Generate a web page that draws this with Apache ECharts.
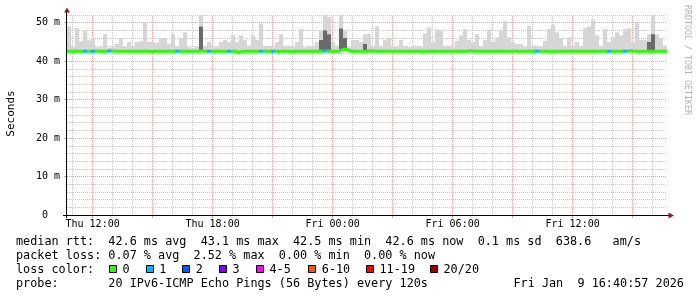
<!DOCTYPE html>
<html><head><meta charset="utf-8">
<script src="https://cdn.jsdelivr.net/npm/echarts@6/dist/echarts.min.js"></script>
<style>html,body{margin:0;padding:0;background:#fff}#c{width:697px;height:297px}</style>
</head><body><div id="c"></div>
<script>
// ---- time axis (hours since Thu 00:00) ----
const startHour = 10.72;
const endHour = 40.72;
const binHours = 0.2;
const tickHours = [12, 18, 24, 30, 36];
const tickLabels = ['Thu 12:00', 'Thu 18:00', 'Fri 00:00', 'Fri 06:00', 'Fri 12:00'];
const yTickValues = [0, 10, 20, 30, 40, 50];
const yTickLabels = ['0  ', '10 m', '20 m', '30 m', '40 m', '50 m'];

// ---- series values (ms), one per 12-minute bin ----
const median = [
42.6,42.6,42.6,42.6,42.6,42.6,42.6,42.6,42.6,42.6,
42.7,42.6,42.6,42.6,42.6,42.6,42.6,42.6,42.6,42.6,
42.5,42.6,42.6,42.6,42.6,42.6,42.6,42.6,42.6,42.6,
42.6,42.6,42.6,42.7,42.6,42.6,42.6,42.6,42.6,42.6,
42.6,42.6,42.3,42.6,42.6,42.6,42.6,42.6,42.6,42.6,
42.6,42.6,42.6,42.6,42.6,42.5,42.6,42.6,42.6,42.6,
42.6,42.6,42.6,42.6,42.7,42.6,42.6,42.6,43.0,43.1,
42.6,42.6,42.6,42.6,42.6,42.7,42.6,42.6,42.6,42.6,
42.6,42.6,42.6,42.6,42.6,42.6,42.6,42.6,42.5,42.6,
42.6,42.6,42.6,42.6,42.6,42.6,42.6,42.6,42.6,42.6,
42.7,42.6,42.6,42.6,42.6,42.6,42.6,42.6,42.6,42.6,
42.6,42.6,42.6,42.6,42.6,42.6,42.6,42.6,42.6,42.6,
42.5,42.6,42.6,42.6,42.6,42.6,42.6,42.6,42.6,42.6,
42.6,42.6,42.6,42.6,42.6,42.6,42.6,42.6,42.6,42.6,
42.7,42.6,42.6,42.6,42.6,42.6,42.6,42.6,42.6,42.6
];
const smokeMax = [
49,43.6,48.6,45.2,48,45.4,46,43.6,43.8,47,
43.5,43.6,44.5,46,43.8,45,43.8,45,45.2,50,
45,45,44.8,46,46,44.5,47,43.8,46,47.5,
43.6,43.5,43.8,52,44,45,43.6,43.8,45,45.5,
45,46.7,45,46.7,45.5,44,46.7,45.5,49.8,44,
44,43.6,45,47,44,44,43.8,45,48.3,43.6,
43.8,44,45,48,52,51.5,45,44,52,48,
43.6,45.5,45.5,45,47,47,44,49,43.8,45.5,
46,44,43.8,45.5,44,43.6,44,44,43.8,47.2,
48.8,45,48.3,48,44,44,43.6,45.3,46.7,48.3,
45.5,45,47,43.8,45.5,48.2,45,46.2,48,50.5,
46.2,45,44.5,44.5,43.8,49.2,44,44,43.8,45.3,
48.4,49.5,47.5,46,43.8,46.2,44,45,44,48.6,
49,50.8,46.7,44,48.3,45,46.2,47.5,46.7,48.3,
48.5,45,50,45.5,45.5,47,52.2,47,46,44
];
// top of the dense (dark) part of the smoke, null = none
const smokeDark = [
null,null,null,null,null,null,null,null,null,null,
null,null,null,null,null,null,null,null,null,null,
null,null,null,null,null,null,null,null,null,null,
null,null,null,49,null,null,null,null,null,null,
null,null,null,null,null,null,null,null,null,null,
null,null,null,null,null,null,null,null,null,null,
null,null,null,45.5,48,47,null,null,48.5,46,
null,null,null,null,44.5,null,null,null,null,null,
null,null,null,null,null,null,null,null,null,null,
null,null,null,null,null,null,null,null,null,null,
null,null,null,null,null,null,null,null,null,null,
null,null,null,null,null,null,null,null,null,null,
null,null,null,null,null,null,null,null,null,null,
null,null,null,null,null,null,null,null,null,null,
null,null,null,null,null,45,47,null,null,null
];
// lost packets (of 20) per bin
const lossCount = [
0,0,0,0,1,0,1,0,0,0,
1,0,0,0,0,0,0,0,0,0,
0,0,0,0,0,0,0,1,0,0,
0,0,0,0,0,1,0,0,0,0,
1,0,0,0,0,0,0,0,1,0,
0,1,0,0,0,0,0,0,0,0,
0,0,0,0,1,0,0,0,0,0,
0,0,0,0,0,0,0,0,0,0,
0,0,0,0,0,0,0,0,0,0,
0,0,0,0,0,0,0,0,0,0,
0,0,0,0,0,0,0,0,0,0,
0,0,0,0,0,0,0,1,0,0,
0,0,0,0,0,0,0,0,0,0,
0,0,0,0,0,1,0,0,0,1,
0,0,0,0,0,0,0,0,0,0
];

// ---- legend ----
const lossLabels = ['0', '1', '2', '3', '4-5', '6-10', '11-19', '20/20'];
const lossMaxCount = [0, 1, 2, 3, 5, 10, 19, 20];
const lossColors = ['#26ff00', '#00b8ff', '#0059ff', '#7e00ff', '#ff00ff', '#ff5500', '#ff0000', '#a10000'];
const rttStats = ['42.6', '43.1', '42.5', '42.6'];
const lossStats = ['0.07', '2.52', '0.00', '0.00'];
const sdValue = '0.1';
const amsValue = '638.6';
const probeText = '20 IPv6-ICMP Echo Pings (56 Bytes) every 120s';
const stampText = 'Fri Jan  9 16:40:57 2026';

// ---- build ----
const MONO = '"DejaVu Sans Mono", monospace';
const binStart = i => startHour + i * binHours;
function withEnd(vals) {
  const d = vals.map((v, i) => [binStart(i), v]);
  d.push([endHour, vals[vals.length - 1]]);
  return d;
}
// [binStart, low, high] bands
const darkBand = median.map((m, i) => [binStart(i), m, smokeDark[i] == null ? m : Math.max(m, smokeDark[i])]);
const lightBand = median.map((m, i) => {
  const lo = smokeDark[i] == null ? m : Math.max(m, smokeDark[i]);
  return [binStart(i), lo, Math.max(lo, smokeMax[i])];
});
function bandRenderer(fill) {
  return function (params, api) {
    const x0 = api.value(0), lo = api.value(1), hi = api.value(2);
    if (!(hi > lo)) return null;
    const p0 = api.coord([x0, lo]);
    const p1 = api.coord([x0 + binHours, hi]);
    return { type: 'rect', shape: { x: p0[0], y: p1[1], width: p1[0] - p0[0], height: p0[1] - p1[1] },
      style: { fill: fill } };
  };
}
function lossColor(n) {
  for (let k = 0; k < lossMaxCount.length; k++) if (n <= lossMaxCount[k]) return lossColors[k];
  return lossColors[lossColors.length - 1];
}
const pieces = [];
for (let i = 0; i < lossCount.length; i++) {
  const c = lossColor(lossCount[i]);
  const last = pieces[pieces.length - 1];
  if (last && last.color === c) last.lt = binStart(i + 1);
  else pieces.push({ gte: binStart(i), lt: binStart(i + 1), color: c });
}
pieces[pieces.length - 1].lt = endHour + 1;

const minorHours = [], majorHours = [];
for (let h = Math.ceil(startHour); h <= endHour; h++) (h % 3 === 0 ? majorHours : minorHours).push(h);
const minorY = [], majorY = [];
for (let v = 2; v <= 52; v += 2) (v % 10 === 0 ? majorY : minorY).push(v);

const gridDot = { color: '#c8c8c8', type: [1, 1], width: 1 };
const redDot = { color: '#eb9c9c', type: [1, 1], width: 1 };

const line1 = 'median rtt:  ' + rttStats[0] + ' ms avg  ' + rttStats[1] + ' ms max  ' + rttStats[2] + ' ms min  ' +
  rttStats[3] + ' ms now  ' + sdValue + ' ms sd  ' + amsValue + '   am/s';
const line2 = 'packet loss: ' + lossStats[0] + ' % avg  ' + lossStats[1] + ' % max  ' + lossStats[2] + ' % min  ' + lossStats[3] + ' % now';
const line4 = 'probe:       ' + probeText;

const boxLeft = [109, 145.7, 182.3, 219, 256, 308.3, 366, 430];
const legendFont = '11.8px ' + MONO;
const rows = [241.8, 255.8, 269.8, 283.8];
const graphic = [
  { type: 'text', x: 16, y: rows[0], style: { text: line1, font: legendFont, fill: '#000', verticalAlign: 'middle' } },
  { type: 'text', x: 16, y: rows[1], style: { text: line2, font: legendFont, fill: '#000', verticalAlign: 'middle' } },
  { type: 'text', x: 16, y: rows[2], style: { text: 'loss color:', font: legendFont, fill: '#000', verticalAlign: 'middle' } },
  { type: 'text', x: 16, y: rows[3], style: { text: line4, font: legendFont, fill: '#000', verticalAlign: 'middle' } },
  { type: 'text', x: 513.5, y: rows[3], style: { text: stampText, font: legendFont, fill: '#000', verticalAlign: 'middle' } },
  { type: 'text', x: 11.5, y: 113.5, rotation: Math.PI / 2, style: { text: 'Seconds', font: '11px ' + MONO, fill: '#000', align: 'center', verticalAlign: 'middle' } },
  { type: 'text', x: 687.5, y: 60, rotation: -Math.PI / 2, style: { text: 'RRDTOOL / TOBI OETIKER', font: '8.3px ' + MONO, fill: '#b4b4b4', align: 'center', verticalAlign: 'middle' } },
  { type: 'line', z: 50, shape: { x1: 66.5, y1: 218, x2: 66.5, y2: 12 }, style: { stroke: '#000', lineWidth: 1 } },
  { type: 'line', z: 50, shape: { x1: 63, y1: 215.5, x2: 669, y2: 215.5 }, style: { stroke: '#000', lineWidth: 1 } },
  { type: 'polygon', z: 51, shape: { points: [[64, 12.5], [70, 12.5], [67, 7.5]] }, style: { fill: '#8f1d1d' } },
  { type: 'polygon', z: 51, shape: { points: [[668.5, 212.5], [668.5, 218.5], [674, 215.5]] }, style: { fill: '#8f1d1d' } }
];
lossLabels.forEach((lab, k) => {
  graphic.push({ type: 'rect', z: 10, shape: { x: Math.round(boxLeft[k]) + 0.5, y: 265.5, width: 7, height: 7 },
    style: { fill: lossColors[k], stroke: '#000', lineWidth: 1 } });
  graphic.push({ type: 'text', x: boxLeft[k] + 13.5, y: rows[2], style: { text: lab, font: legendFont, fill: '#000', verticalAlign: 'middle' } });
});

const chart = echarts.init(document.getElementById('c'), null, { renderer: 'canvas' });
const xBase = { type: 'value', min: startHour, max: endHour, position: 'bottom', gridIndex: 0,
  axisLine: { show: false }, splitLine: { show: false } };
const yBase = { type: 'value', min: 0, max: 52, position: 'left', gridIndex: 0,
  axisLine: { show: false }, splitLine: { show: false } };
chart.setOption({
  animation: false,
  backgroundColor: '#ffffff',
  grid: { left: 67, right: 30, top: 15, bottom: 82, containLabel: false },
  xAxis: [
    Object.assign({}, xBase, {
      axisTick: { show: true, customValues: majorHours, length: 3, lineStyle: { color: '#e89a9a' } },
      axisLabel: { show: true, customValues: tickHours, formatter: v => tickLabels[tickHours.indexOf(v)],
        fontFamily: MONO, fontSize: 10, color: '#000', margin: 4 } }),
    Object.assign({}, xBase, { axisLabel: { show: false },
      axisTick: { show: true, inside: true, length: 200, customValues: minorHours, lineStyle: gridDot } }),
    Object.assign({}, xBase, { axisLabel: { show: false },
      axisTick: { show: true, inside: true, length: 200, customValues: majorHours, lineStyle: redDot } })
  ],
  yAxis: [
    Object.assign({}, yBase, {
      axisTick: { show: true, customValues: majorY.filter(v => v <= 50), length: 3, lineStyle: { color: '#e89a9a' } },
      axisLabel: { show: true, customValues: yTickValues, formatter: v => yTickLabels[yTickValues.indexOf(v)],
        fontFamily: MONO, fontSize: 10, color: '#000', margin: 7 } }),
    Object.assign({}, yBase, { axisLabel: { show: false },
      axisTick: { show: true, inside: true, length: 600, customValues: minorY, lineStyle: gridDot } }),
    Object.assign({}, yBase, { axisLabel: { show: false },
      axisTick: { show: true, inside: true, length: 600, customValues: majorY.filter(v => v <= 50), lineStyle: redDot } })
  ],
  visualMap: { show: false, type: 'piecewise', seriesIndex: 2, dimension: 0, pieces: pieces, outOfRange: { color: lossColors[0] } },
  series: [
    { type: 'custom', name: 'smokeLight', data: lightBand, renderItem: bandRenderer('#d6d6d6'), silent: true, clip: true,
      encode: { x: 0, y: [1, 2] } },
    { type: 'custom', name: 'smokeDark', data: darkBand, renderItem: bandRenderer('#6a6a6a'), silent: true, clip: true,
      encode: { x: 0, y: [1, 2] } },
    { type: 'line', name: 'median', data: withEnd(median), step: 'end', symbol: 'none', silent: true, z: 4,
      lineStyle: { width: 3 } }
  ],
  graphic: graphic
});
</script>
</body></html>
